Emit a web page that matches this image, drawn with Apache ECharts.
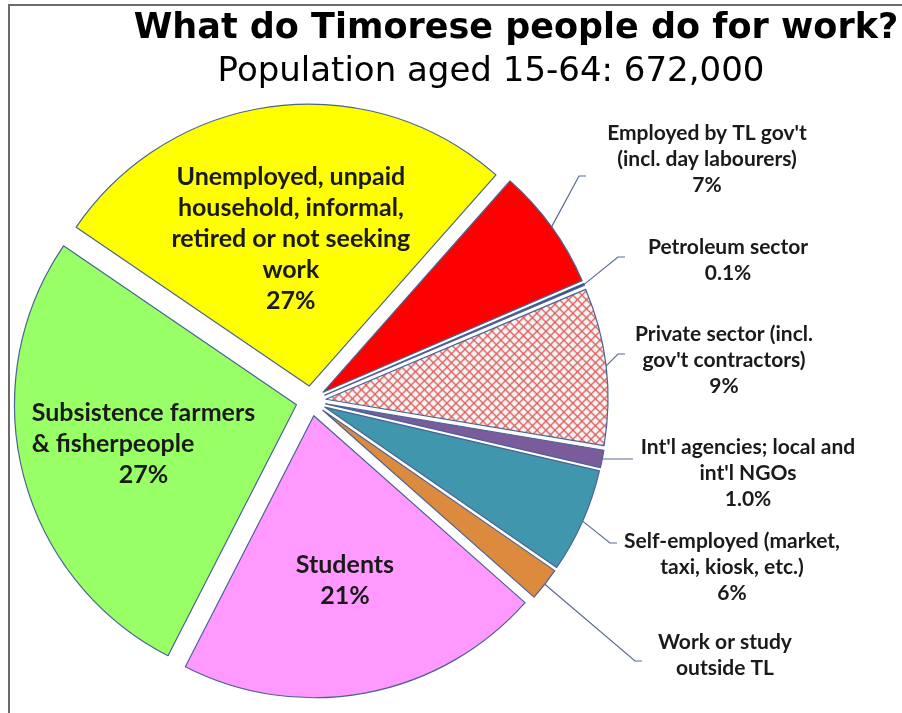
<!DOCTYPE html>
<html>
<head>
<meta charset="utf-8">
<script src="https://cdn.jsdelivr.net/npm/echarts@6/dist/echarts.min.js"></script>
<style>
html, body { margin: 0; padding: 0; background: #fff; }
#chart { width: 902px; height: 713px; }
</style>
</head>
<body>
<div id="chart"></div>
<script>
// data
var categories = [
    "Employed by TL gov't\n(incl. day labourers)",
    'Petroleum sector',
    "Private sector (incl.\ngov't contractors)",
    "Int'l agencies; local and\nint'l NGOs",
    'Self-employed (market,\ntaxi, kiosk, etc.)',
    'Work or study\noutside TL',
    'Students',
    'Subsistence farmers\n& fisherpeople',
    'Unemployed, unpaid\nhousehold, informal,\nretired or not seeking\nwork'
];
var shares = [7, 0.1, 9, 1.0, 6, 1.9, 21, 27, 27];
var shareLabels = ['7%', '0.1%', '9%', '1.0%', '6%', '', '21%', '27%', '27%'];

// styles / layout
var sliceColors = ['#ff0000', '#2b4a86', null, '#7a5b9b', '#3f96ad', '#dc8a3e', '#ff99ff', '#99ff66', '#ffff00'];
var labelSpots = [[707, 159], [728, 260], [724, 360], [748, 473], [732, 567], [725, 655]];
var leaderEnds = [[586, 176], [625, 257], [625, 354], [633, 459], [617, 543], [642, 661]];
var insideDepth = [0.595, 0.56, 0.525]; // students, farmers, unemployed

var cx = 311, cy = 401, R = 282, explode = 15, startAngle = 48.5;

// cross-hatch fill for the private sector slice
var hatch = document.createElement('canvas');
hatch.width = 9; hatch.height = 9;
var hctx = hatch.getContext('2d');
hctx.fillStyle = '#f3f5f5';
hctx.fillRect(0, 0, 9, 9);
hctx.strokeStyle = '#e05a5a';
hctx.lineWidth = 1.3;
hctx.beginPath();
hctx.moveTo(-1, -1); hctx.lineTo(10, 10);
hctx.moveTo(10, -1); hctx.lineTo(-1, 10);
hctx.stroke();
sliceColors[2] = { image: hatch, repeat: 'repeat' };

var total = shares.reduce(function (a, b) { return a + b; }, 0);
function midRad(i) {
    var before = 0;
    for (var k = 0; k < i; k++) before += shares[k];
    var deg = startAngle - (before + shares[i] / 2) / total * 360;
    return deg * Math.PI / 180;
}

var chart = echarts.init(document.getElementById('chart'));

// the slices themselves, all pulled out a little
var sliceData = shares.map(function (v, i) {
    return { name: categories[i], value: v, selected: true, itemStyle: { color: sliceColors[i] } };
});

// an invisible copy of the pie that only carries the labels
var labelData = shares.map(function (v, i) {
    var inside = i >= 6;
    return {
        name: categories[i],
        value: v,
        label: inside ? { fontSize: 25, lineHeight: 31 } : { fontSize: 21, lineHeight: 26 },
        labelLine: { show: !inside }
    };
});

var option = {
    animation: false,
    backgroundColor: '#ffffff',
    title: [{
        text: 'What do Timorese people do for work?',
        left: 511, top: 6, textAlign: 'center',
        textStyle: { fontFamily: 'DejaVu Sans', fontWeight: 'bold', fontSize: 35, color: '#000' }
    }, {
        text: 'Population aged 15-64: 672,000',
        left: 486, top: 50, textAlign: 'center',
        textStyle: { fontFamily: 'DejaVu Sans', fontWeight: 'normal', fontSize: 34, color: '#000' }
    }],
    graphic: [{
        type: 'polyline',
        shape: { points: [[9, 713], [9, 5], [902, 5]] },
        style: { stroke: '#6b6b6b', lineWidth: 2, fill: null }
    }],
    series: [{
        type: 'pie',
        center: [cx, cy],
        radius: [0, R],
        startAngle: startAngle,
        clockwise: true,
        selectedMode: 'multiple',
        selectedOffset: explode,
        silent: true,
        emphasis: { scale: false },
        itemStyle: { borderColor: '#4a6394', borderWidth: 1.2 },
        label: { show: false },
        labelLine: { show: false },
        data: sliceData
    }, {
        type: 'pie',
        z: 5,
        center: [cx, cy],
        radius: [0, R],
        startAngle: startAngle,
        clockwise: true,
        selectedMode: false,
        avoidLabelOverlap: false,
        silent: true,
        emphasis: { scale: false },
        itemStyle: { color: 'rgba(0,0,0,0)', borderWidth: 0 },
        label: {
            show: true,
            color: '#1a1a1a',
            fontFamily: 'Lato',
            fontWeight: 'bold',
            formatter: function (p) {
                var i = p.dataIndex;
                if (i === 7) {
                    return '{a|Subsistence farmers}\n{l|& fisherpeople}\n{a|' + shareLabels[i] + '}';
                }
                return shareLabels[i] ? categories[i] + '\n' + shareLabels[i] : categories[i];
            },
            rich: {
                a: { align: 'center', fontFamily: 'Lato', fontWeight: 'bold', fontSize: 25, lineHeight: 31, color: '#1a1a1a' },
                l: { align: 'left', fontFamily: 'Lato', fontWeight: 'bold', fontSize: 25, lineHeight: 31, color: '#1a1a1a' }
            }
        },
        labelLine: {
            lineStyle: { color: '#5a6a93', width: 1.2 }
        },
        labelLayout: function (params) {
            var i = params.dataIndex;
            var a = midRad(i);
            var ux = Math.cos(a), uy = -Math.sin(a);
            var sx = cx + explode * ux, sy = cy + explode * uy;
            if (i >= 6) {
                var f = insideDepth[i - 6];
                return { x: sx + f * R * ux, y: sy + f * R * uy, align: 'center', verticalAlign: 'middle' };
            }
            var end = leaderEnds[i];
            var p0 = [sx + R * ux, sy + R * uy];
            return {
                x: labelSpots[i][0], y: labelSpots[i][1],
                align: 'center', verticalAlign: 'middle',
                labelLinePoints: [p0, [end[0] - 7, end[1]], end]
            };
        },
        data: labelData
    }]
};

chart.setOption(option);
</script>
</body>
</html>
